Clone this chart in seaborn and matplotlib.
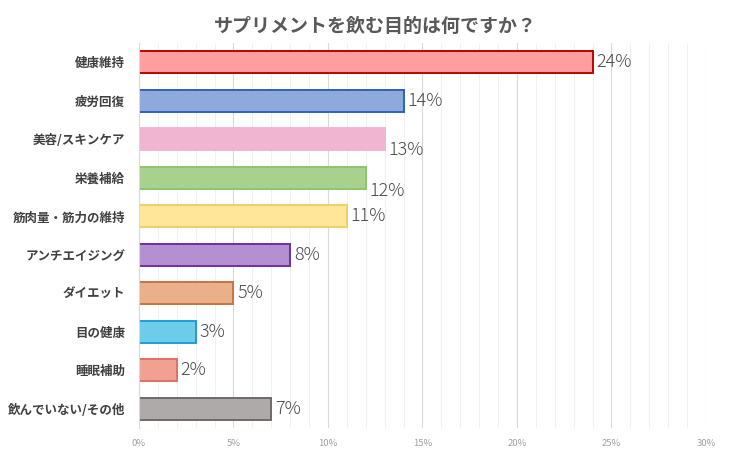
import pandas as pd
import matplotlib.pyplot as plt
import seaborn as sns
from matplotlib.ticker import MultipleLocator, PercentFormatter

sns.set_theme(style='white')
plt.rcParams['font.family'] = ['Noto Sans CJK JP', 'DejaVu Sans']

categories = ['健康維持', '疲労回復', '美容/スキンケア', '栄養補給', '筋肉量・筋力の維持',
              'アンチエイジング', 'ダイエット', '目の健康', '睡眠補助', '飲んでいない/その他']
values = [24, 14, 13, 12, 11, 8, 5, 3, 2, 7]

fills = ['#FF9E9E', '#8EA9DB', '#EFB5D1', '#A9D18E', '#FFE699',
         '#B48FD1', '#EAB08A', '#6DCDE9', '#F0A191', '#AEAAAA']
edges = ['#C00000', '#2E62B8', '#EFB5D1', '#8CC56A', '#F0CF6A',
         '#7030A0', '#C47447', '#1B9DD9', '#E0705E', '#6E6A6A']
# ラベルの縦方向のずれ（元の図に合わせる）
label_dy = [0, 0, 0.28, 0.33, 0, 0, 0, 0, 0, 0]

df = pd.DataFrame({'cat': categories, 'val': values})

fig = plt.figure(figsize=(7.5, 4.5), dpi=100)
ax = fig.add_axes([0.1853, 0.049, 0.756, 0.855])
sns.barplot(data=df, y='cat', x='val', hue='cat', palette=fills, legend=False,
            width=0.57, ax=ax, saturation=1)

for p, ec in zip(ax.patches, edges):
    p.set_edgecolor(ec)
    p.set_linewidth(1.4)

for i, v in enumerate(values):
    ax.text(v + 0.2, i + label_dy[i], f'{v}%', va='center', ha='left',
            fontsize=13, color='#4A4A4A', fontweight='light')

ax.set_xlim(0, 30)
ax.set_ylim(9.5, -0.5)
ax.xaxis.set_major_locator(MultipleLocator(5))
ax.xaxis.set_minor_locator(MultipleLocator(1))
ax.xaxis.set_major_formatter(PercentFormatter(decimals=0))
ax.grid(axis='x', which='major', color='#D9D9D9', linewidth=0.8)
ax.grid(axis='x', which='minor', color='#F0F0F0', linewidth=0.7)
ax.set_axisbelow(True)
for s in ['top', 'right', 'bottom']:
    ax.spines[s].set_visible(False)
ax.spines['left'].set_color('#D9D9D9')
ax.spines['left'].set_linewidth(0.8)

ax.tick_params(axis='x', which='both', length=0, labelsize=6.8, colors='#A0A0A0', pad=8)
ax.tick_params(axis='y', length=0, labelsize=9, colors='#404040', pad=10)
for t in ax.get_yticklabels():
    t.set_fontweight('bold')
ax.set_xlabel('')
ax.set_ylabel('')

fig.suptitle('サプリメントを飲む目的は何ですか？', x=0.5, y=0.963, fontsize=13.7,
             fontweight='bold', color='#595959')

fig.savefig('out.png', dpi=100)
